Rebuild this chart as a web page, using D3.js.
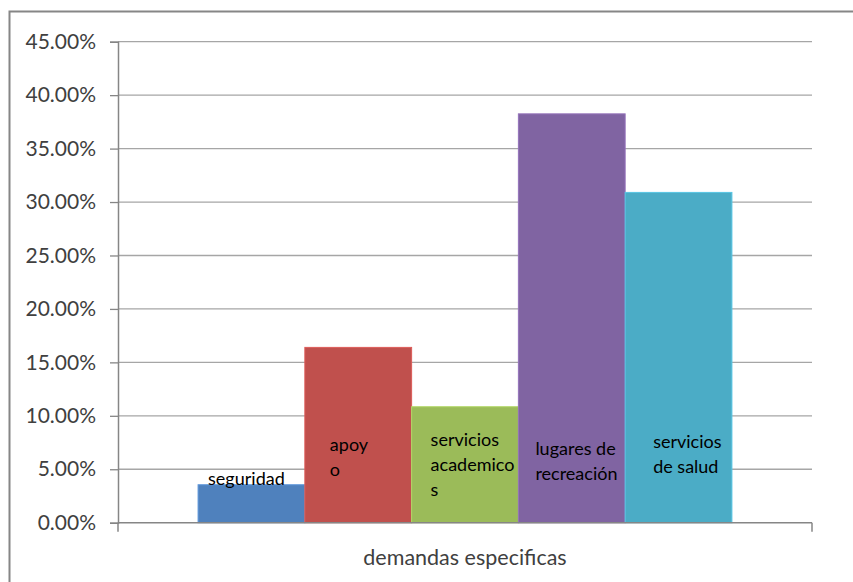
<!DOCTYPE html>
<html>
<head>
<meta charset="utf-8">
<script src="https://cdn.jsdelivr.net/npm/d3@7"></script>
<style>
  body { margin: 0; background: #fff; }
  svg { display: block; font-family: Lato, "Open Sans", sans-serif; }
</style>
</head>
<body>
<svg id="chart" width="853" height="582"></svg>
<script>
// data
const series = ['seguridad', 'apoyo', 'servicios academicos', 'lugares de recreación', 'servicios de salud'];
const values = [0.0355, 0.164, 0.1085, 0.3825, 0.309];
const colors = ['#4F81BD', '#C0504D', '#9BBB59', '#8064A2', '#4BACC6'];
const labelLines = [['seguridad'], ['apoy', 'o'], ['servicios', 'academico', 's'], ['lugares de', 'recreación'], ['servicios', 'de salud']];
const yTicks = [0, 0.05, 0.10, 0.15, 0.20, 0.25, 0.30, 0.35, 0.40, 0.45];
const axisTitle = 'demandas especificas';

const svg = d3.select('#chart');
const W = 853, H = 582;
const plot = { left: 118, right: 812, top: 41.7, bottom: 522.7 };

// outer chart border (only top and left visible)
svg.append('path')
    .attr('d', `M9.5,${H} V11.5 H${W}`)
    .attr('fill', 'none')
    .attr('stroke', '#868686')
    .attr('stroke-width', 2);

const y = d3.scaleLinear().domain([0, 0.45]).range([plot.bottom, plot.top]);

// one category, 5 series, gap width 150%
const gapWidth = 1.5;
const bw = (plot.right - plot.left) / (series.length + gapWidth);
const x = d3.scaleBand()
    .domain(series)
    .range([plot.left + bw * gapWidth / 2, plot.right - bw * gapWidth / 2])
    .padding(0);

// gridlines
svg.append('g')
    .selectAll('line')
    .data(yTicks.slice(1))
    .join('line')
    .attr('x1', plot.left).attr('x2', plot.right)
    .attr('y1', d => y(d)).attr('y2', d => y(d))
    .attr('stroke', '#A6A6A6')
    .attr('stroke-width', 1.3);

// y axis
const yAxis = d3.axisLeft(y)
    .tickValues(yTicks)
    .tickSize(8)
    .tickPadding(14)
    .tickFormat(d => (d * 100).toFixed(2) + '%');

const yg = svg.append('g')
    .attr('transform', `translate(${plot.left},0)`)
    .call(yAxis);
yg.select('.domain').attr('stroke', '#868686').attr('stroke-width', 1.5);
yg.selectAll('.tick line').attr('stroke', '#868686').attr('stroke-width', 1.3);
yg.selectAll('.tick text')
    .attr('fill', '#404040')
    .attr('font-size', 21)
    .attr('font-family', 'Lato, sans-serif');

// bars
svg.append('g')
    .selectAll('rect')
    .data(series)
    .join('rect')
    .attr('x', d => x(d))
    .attr('width', x.bandwidth())
    .attr('y', (d, i) => y(values[i]))
    .attr('height', (d, i) => y(0) - y(values[i]))
    .attr('fill', (d, i) => colors[i])
    .attr('stroke', (d, i) => d3.color(colors[i]).brighter(0.4))
    .attr('stroke-width', 1);

// x axis line with end ticks
const xa = svg.append('g');
xa.append('line')
    .attr('x1', plot.left).attr('x2', plot.right)
    .attr('y1', y(0)).attr('y2', y(0))
    .attr('stroke', '#868686').attr('stroke-width', 1.5);
xa.selectAll('line.tk')
    .data([plot.left, plot.right])
    .join('line')
    .attr('class', 'tk')
    .attr('x1', d => d).attr('x2', d => d)
    .attr('y1', y(0)).attr('y2', y(0) + 9)
    .attr('stroke', '#868686').attr('stroke-width', 1.5);

// data labels placed inside bars (x offset from bar left, first baseline in value units)
const labelLayout = [
    { dx: 10, at: 0.0353 },
    { dx: 25, at: 0.067 },
    { dx: 19, at: 0.072 },
    { dx: 17, at: 0.063 },
    { dx: 28, at: 0.070 }
];
const lineGap = 25;

svg.append('g')
    .selectAll('text')
    .data(series)
    .join('text')
    .attr('x', (d, i) => x(d) + labelLayout[i].dx)
    .attr('y', (d, i) => y(labelLayout[i].at))
    .attr('fill', '#000')
    .attr('font-size', 18)
    .attr('font-family', 'Lato, sans-serif')
    .each(function(d, i) {
        const t = d3.select(this);
        const x0 = x(d) + labelLayout[i].dx;
        labelLines[i].forEach((ln, k) => {
            t.append('tspan')
                .attr('x', x0)
                .attr('dy', k === 0 ? 0 : lineGap)
                .text(ln);
        });
    });

// axis title
svg.append('text')
    .attr('x', (plot.left + plot.right) / 2)
    .attr('y', 565)
    .attr('text-anchor', 'middle')
    .attr('fill', '#404040')
    .attr('font-size', 21.5)
    .attr('font-family', 'Lato, sans-serif')
    .text(axisTitle);
</script>
</body>
</html>
